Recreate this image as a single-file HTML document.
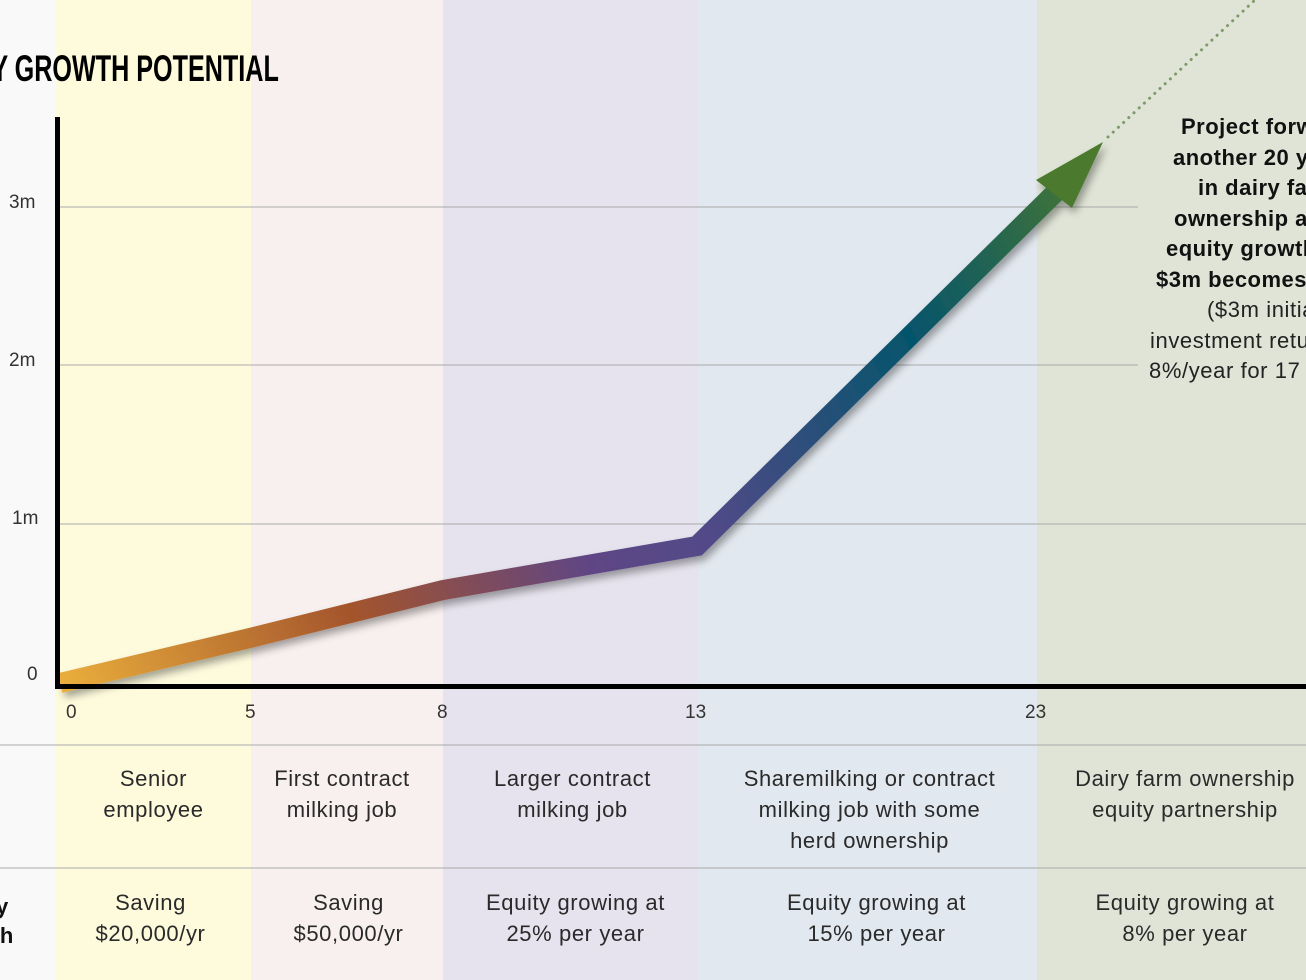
<!DOCTYPE html><html style="overflow:hidden"><head><style>
body{margin:0;width:1306px;height:980px;overflow:hidden;position:relative;font-family:"Liberation Sans",sans-serif;background:#f9f9f9}
.b{position:absolute;top:0;height:980px}
.t{position:absolute;font-size:22px;color:#2a2a2a;text-align:center;line-height:31px;white-space:nowrap;letter-spacing:0.6px}
.k{position:absolute;font-size:19px;color:#333}
.r{position:absolute;font-size:22px;font-weight:bold;color:#111;white-space:nowrap;line-height:22px;letter-spacing:0.5px}
.n{position:absolute;font-size:22px;color:#222;white-space:nowrap;line-height:22px;letter-spacing:0.6px}
</style></head><body>
<div class="b" style="left:56px;width:195px;background:#fefbdd"></div>
<div class="b" style="left:251px;width:192px;background:#f8f0ef"></div>
<div class="b" style="left:443px;width:255px;background:#e6e3ee"></div>
<div class="b" style="left:698px;width:339px;background:#e2e8ef"></div>
<div class="b" style="left:1037px;width:269px;background:#dfe4d6"></div>
<div style="position:absolute;right:1027px;top:48px;font-weight:bold;font-size:37px;white-space:nowrap;transform:scaleX(0.68);transform-origin:right center">EQUITY GROWTH POTENTIAL</div>
<svg width="1306" height="980" style="position:absolute;left:0;top:0">
<defs><linearGradient id="g" x1="60" y1="683" x2="1100" y2="145" gradientUnits="userSpaceOnUse">
<stop offset="0" stop-color="#eaae3c"/><stop offset="0.25" stop-color="#a3542c"/><stop offset="0.45" stop-color="#5f4585"/><stop offset="0.55" stop-color="#524a88"/><stop offset="0.78" stop-color="#05546c"/><stop offset="1" stop-color="#4c7a2e"/></linearGradient>
<filter id="s"><feDropShadow dx="3" dy="5" stdDeviation="4" flood-opacity="0.35"/></filter></defs>
<g stroke="#aaa" stroke-width="1"><line x1="57" y1="207" x2="1138" y2="207"/><line x1="57" y1="365" x2="1138" y2="365"/><line x1="57" y1="524" x2="1306" y2="524"/><line x1="0" y1="745" x2="1306" y2="745"/><line x1="0" y1="868" x2="1306" y2="868"/></g>
<line x1="1108" y1="137" x2="1255" y2="0" stroke="#7f9a6a" stroke-width="3" stroke-dasharray="0.1 7" stroke-linecap="round"/>
<g filter="url(#s)">
<polyline points="60,683 250,638 443,590 697,546 1062,186" fill="none" stroke="url(#g)" stroke-width="20" stroke-linejoin="miter"/>
<polygon points="1103,142 1072,208 1036,180" fill="#4c7a2e"/></g>
<rect x="55" y="117" width="5" height="571" fill="#000"/>
<rect x="55" y="684" width="1251" height="5" fill="#000"/>
</svg>
<div class="k" style="left:9px;top:192px">3m</div>
<div class="k" style="left:9px;top:350px">2m</div>
<div class="k" style="left:12px;top:508px">1m</div>
<div class="k" style="left:27px;top:664px">0</div>
<div class="k" style="left:66px;top:702px">0</div>
<div class="k" style="left:245px;top:702px">5</div>
<div class="k" style="left:437px;top:702px">8</div>
<div class="k" style="left:685px;top:702px">13</div>
<div class="k" style="left:1025px;top:702px">23</div>
<div class="t" style="left:56px;width:195px;top:763px">Senior<br>employee</div>
<div class="t" style="left:246px;width:192px;top:763px">First contract<br>milking job</div>
<div class="t" style="left:445px;width:255px;top:763px">Larger contract<br>milking job</div>
<div class="t" style="left:700px;width:339px;top:763px">Sharemilking or contract<br>milking job with some<br>herd ownership</div>
<div class="t" style="left:1040px;width:290px;top:763px">Dairy farm ownership<br>equity partnership</div>
<div class="t" style="left:53px;width:195px;top:887px">Saving<br>$20,000/yr</div>
<div class="t" style="left:251px;width:195px;top:887px">Saving<br>$50,000/yr</div>
<div class="t" style="left:448px;width:255px;top:887px">Equity growing at<br>25% per year</div>
<div class="t" style="left:707px;width:339px;top:887px">Equity growing at<br>15% per year</div>
<div class="t" style="left:1040px;width:290px;top:887px">Equity growing at<br>8% per year</div>
<div class="r" style="left:-4px;top:896px">y</div>
<div class="r" style="left:-8px;top:925px">th</div>
<div style="position:absolute;left:1140px;top:0;width:166px;height:400px;overflow:hidden">
<div class="r" style="left:41px;top:116px">Project forward</div>
<div class="r" style="left:33px;top:147px">another 20 years</div>
<div class="r" style="left:58px;top:177px">in dairy farm</div>
<div class="r" style="left:34px;top:208px">ownership and</div>
<div class="r" style="left:26px;top:238px">equity growth:</div>
<div class="r" style="left:16px;top:269px">$3m becomes</div>
<div class="n" style="left:67px;top:299px">($3m initial</div>
<div class="n" style="left:10px;top:330px">investment returning</div>
<div class="n" style="left:9px;top:360px">8%/year for 17 years)</div>
</div>
</body></html>
